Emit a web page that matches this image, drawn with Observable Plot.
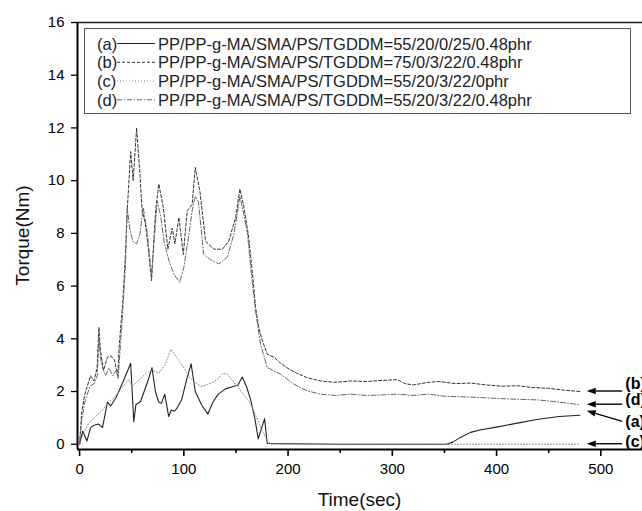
<!DOCTYPE html>
<html>
<head>
<meta charset="utf-8">
<script src="https://cdn.jsdelivr.net/npm/d3@7"></script>
<script src="https://cdn.jsdelivr.net/npm/@observablehq/plot@0.6"></script>
<style>
  body { margin: 0; background: #fff; overflow: hidden; }
  #chart svg { display: block; }
</style>
</head>
<body>
<div id="chart"></div>
<script>
// ---- data (time in s, torque in Nm) ----
const tA = [0, 3, 7, 10.6, 14, 18, 22, 26.7, 29.8, 35, 41.5, 49, 52, 54, 58.5, 65, 69.5, 72.7, 75.9, 78.5, 81.7, 85.5, 88, 91, 94, 98, 103, 107, 111, 117, 123, 128, 133, 140, 148, 152, 156, 160, 164, 168, 171.4, 174.5, 177.5, 180, 250, 352, 358, 365, 375, 385, 400, 420, 440, 460, 480];
const vA = [0, 0.5, 0.12, 0.64, 0.72, 0.77, 0.63, 1.6, 1.45, 1.77, 2.35, 3.07, 0.85, 1.5, 1.62, 2.34, 2.9, 2.0, 1.6, 1.55, 1.9, 1.05, 1.3, 1.25, 1.4, 1.7, 2.5, 3.05, 2.0, 1.5, 1.15, 1.6, 1.9, 2.1, 2.2, 2.25, 2.55, 2.2, 1.7, 1.0, 0.2, 0.6, 0.97, 0.03, 0, 0, 0.08, 0.25, 0.45, 0.55, 0.65, 0.8, 0.95, 1.05, 1.1];

const tB = [0, 2, 5, 10.5, 13.7, 16.8, 18.5, 20, 23, 26.7, 30, 33.4, 36.6, 38, 41.6, 44, 45.7, 49, 51.4, 54.7, 57.9, 60, 63, 66, 69, 72.9, 76, 80.3, 84.7, 88.9, 91.4, 95.3, 99.5, 103.3, 108, 111, 115.4, 120.9, 128.9, 137, 143, 149.7, 153.8, 157.6, 161.8, 165.6, 168.8, 172, 175.3, 180, 186.5, 192, 199, 208, 218, 231, 245, 260, 275, 290, 305, 312, 320, 335, 345, 360, 375, 390, 405, 420, 435, 450, 465, 480];
const vB = [0, 1.2, 1.9, 2.6, 2.4, 2.9, 4.43, 3.55, 2.8, 3.3, 3.35, 3.2, 2.6, 3.7, 5.5, 7.2, 8.86, 11.1, 10.0, 12.0, 10.25, 8.86, 8.4, 7.4, 6.2, 8.86, 9.87, 8.98, 7.4, 8.2, 7.6, 8.6, 7.2, 8.86, 9.1, 10.5, 9.6, 7.7, 7.4, 7.4, 7.7, 8.6, 9.68, 9.0, 7.97, 6.58, 5.19, 4.4, 3.93, 3.42, 3.3, 3.1, 2.9, 2.7, 2.53, 2.4, 2.35, 2.4, 2.38, 2.42, 2.45, 2.3, 2.25, 2.35, 2.38, 2.3, 2.32, 2.25, 2.2, 2.22, 2.15, 2.12, 2.05, 2.0];

const tC = [0, 3, 8, 15, 22, 28, 35, 42, 47, 50.5, 55, 58.6, 64, 69.6, 76, 82, 87.5, 93, 100, 106, 111, 116, 122, 128, 133, 137.7, 142, 147, 152, 158, 163, 168, 172, 176, 180, 184, 480];
const vC = [0, 0.35, 0.75, 1.05, 1.3, 1.6, 1.85, 2.2, 2.45, 2.2, 2.35, 2.5, 2.7, 2.8, 2.7, 3.0, 3.6, 3.3, 2.9, 2.5, 2.35, 2.2, 2.25, 2.35, 2.5, 2.69, 2.65, 2.4, 2.15, 1.85, 1.6, 1.2, 0.8, 0.45, 0.15, 0, 0];

const tD = [0, 2, 5, 10, 14, 17, 18.5, 20, 22, 25, 28, 32, 35, 37, 41, 44, 45.7, 48, 51, 54.7, 57.9, 61, 65, 69, 74.5, 78, 81, 85.7, 90.5, 96, 100, 104.9, 108, 111, 114, 119, 125.7, 133.6, 141.7, 148, 153.8, 157.6, 161, 164.8, 168.8, 173.6, 180, 192.8, 205.6, 218, 231, 245, 260, 275, 290, 305, 320, 335, 350, 365, 380, 395, 410, 425, 440, 455, 470, 480];
const vD = [0, 0.9, 1.6, 2.2, 2.3, 2.6, 4.05, 3.3, 2.9, 2.6, 2.9, 2.6, 2.8, 2.5, 4.8, 6.8, 8.98, 8.2, 7.7, 7.6, 7.97, 8.98, 8.0, 6.4, 9.24, 8.6, 7.7, 6.96, 6.45, 6.14, 6.7, 7.97, 8.86, 9.4, 9.2, 7.2, 7.0, 6.84, 7.1, 7.97, 9.4, 8.7, 8.0, 6.45, 5.06, 3.8, 2.91, 2.66, 2.28, 2.03, 1.9, 1.85, 1.9, 1.85, 1.87, 1.9, 1.85, 1.9, 1.82, 1.8, 1.78, 1.75, 1.72, 1.7, 1.68, 1.62, 1.55, 1.5];

const seriesKeys = ["a", "b", "c", "d"];
const legendTags = ["(a)", "(b)", "(c)", "(d)"];
const legendTexts = [
  "PP/PP-g-MA/SMA/PS/TGDDM=55/20/0/25/0.48phr",
  "PP/PP-g-MA/SMA/PS/TGDDM=75/0/3/22/0.48phr",
  "PP/PP-g-MA/SMA/PS/TGDDM=55/20/3/22/0phr",
  "PP/PP-g-MA/SMA/PS/TGDDM=55/20/3/22/0.48phr"
];
const annoTags = ["(b)", "(d)", "(a)", "(c)"];
const annoKeys = ["b", "d", "a", "c"];

const yTicks = [0, 2, 4, 6, 8, 10, 12, 14, 16];
const xTicks = [0, 100, 200, 300, 400, 500];
const xMinorTicks = [50, 150, 250, 350, 450];
const xTitle = "Time(sec)";
const yTitle = "Torque(Nm)";

// ---- styles ----
const lineStyle = {
  a: {stroke: "#222", dash: null, width: 1.1},
  b: {stroke: "#333", dash: "3,2", width: 1},
  c: {stroke: "#8a8a8a", dash: "1,2", width: 1},
  d: {stroke: "#666", dash: "5,2,1,2", width: 1}
};
const FONT = "'Liberation Sans', Arial, Helvetica, sans-serif";

const seriesData = {
  a: tA.map((t, i) => ({t, v: vA[i]})),
  b: tB.map((t, i) => ({t, v: vB[i]})),
  c: tC.map((t, i) => ({t, v: vC[i]})),
  d: tD.map((t, i) => ({t, v: vD[i]}))
};

const xDomain = [-2, 540];
const yDomain = [-0.2, 16];

const chart = Plot.plot({
  width: 642,
  height: 511,
  marginLeft: 77,
  marginRight: 0,
  marginTop: 22,
  marginBottom: 62,
  x: {domain: xDomain},
  y: {domain: yDomain},
  style: {fontFamily: FONT, fontSize: "15px", color: "#000", background: "#fff"},
  marks: [
    Plot.ruleY([yDomain[1]], {stroke: "#222", strokeWidth: 1.6}),
    Plot.axisY({ticks: yTicks, tickSize: 6, tickPadding: 7, label: null, fontSize: 15, stroke: "#000", strokeWidth: 1.3}),
    Plot.axisX({ticks: xTicks, tickSize: 7, tickPadding: 7, label: null, fontSize: 15, stroke: "#000", strokeWidth: 1.6}),
    Plot.axisX({ticks: xMinorTicks, tickSize: 4, tickPadding: 0, tickFormat: () => "", label: null, stroke: "#000", strokeWidth: 1.6}),
    ...seriesKeys.map(k => Plot.line(seriesData[k], {
      x: "t", y: "v",
      stroke: lineStyle[k].stroke,
      strokeWidth: lineStyle[k].width,
      strokeDasharray: lineStyle[k].dash
    })),
    Plot.ruleX([xDomain[0]], {stroke: "#000", strokeWidth: 2}),
    Plot.ruleY([yDomain[0]], {stroke: "#000", strokeWidth: 2})
  ]
});

document.getElementById("chart").appendChild(chart);

// ---- annotations, titles and legend (placed with the plot's scales) ----
const X = chart.scale("x");
const Y = chart.scale("y");
const svg = d3.select(chart);

// axis titles
svg.append("text")
  .attr("x", (X.apply(xDomain[0]) + 642) / 2)
  .attr("y", 499)
  .attr("text-anchor", "middle")
  .attr("dominant-baseline", "central")
  .attr("font-family", FONT).attr("font-size", 19).attr("fill", "#111")
  .text(xTitle);
svg.append("text")
  .attr("transform", `translate(22,${(Y.apply(yDomain[0]) + Y.apply(yDomain[1])) / 2}) rotate(-90)`)
  .attr("text-anchor", "middle")
  .attr("dominant-baseline", "central")
  .attr("font-family", FONT).attr("font-size", 19).attr("fill", "#111")
  .text(yTitle);

// right-side arrow annotations pointing to curve ends
const lastVal = k => seriesData[k][seriesData[k].length - 1];
const annoOffsets = {b: {head: 0, tail: 0, label: 0.3}, d: {head: 0, tail: 0, label: 0.18}, a: {head: 0.15, tail: -0.25, label: -0.25}, c: {head: 0, tail: 0, label: 0.1}};
const headT = 487, tailT = 521, labelT = 524;
annoKeys.forEach((k, i) => {
  const end = lastVal(k);
  const o = annoOffsets[k];
  const hx = X.apply(headT), hy = Y.apply(end.v + o.head);
  const tx = X.apply(tailT), ty = Y.apply(end.v + o.tail);
  const ang = Math.atan2(ty - hy, tx - hx);
  const L = 9, W = 3.2;
  const bx = hx + L * Math.cos(ang), by = hy + L * Math.sin(ang);
  svg.append("line").attr("x1", bx).attr("y1", by).attr("x2", tx).attr("y2", ty)
    .attr("stroke", "#000").attr("stroke-width", 1.4);
  svg.append("path")
    .attr("d", `M${hx},${hy}L${bx - W * Math.sin(ang)},${by + W * Math.cos(ang)}L${bx + W * Math.sin(ang)},${by - W * Math.cos(ang)}Z`)
    .attr("fill", "#000");
  svg.append("text")
    .attr("x", X.apply(labelT)).attr("y", Y.apply(end.v + o.label))
    .attr("text-anchor", "start")
    .attr("dominant-baseline", "central")
    .attr("font-family", FONT).attr("font-size", 16).attr("font-weight", "bold").attr("fill", "#000")
    .text(annoTags[i]);
});

// legend box
const lg = svg.append("g").attr("text-anchor", "start");
lg.append("rect").attr("x", 84.5).attr("y", 28.5).attr("width", 546).attr("height", 85)
  .attr("fill", "#fff").attr("stroke", "#555").attr("stroke-width", 1);
const rowY = [43.5, 62.3, 81, 99.8];
seriesKeys.forEach((k, i) => {
  const y = rowY[i];
  lg.append("text").attr("x", 97).attr("y", y).attr("text-anchor", "start").attr("dominant-baseline", "central")
    .attr("font-family", FONT).attr("font-size", 16.5).attr("fill", "#222").text(legendTags[i]);
  lg.append("line").attr("x1", 117).attr("x2", 155).attr("y1", y).attr("y2", y)
    .attr("stroke", lineStyle[k].stroke).attr("stroke-width", lineStyle[k].width)
    .attr("stroke-dasharray", lineStyle[k].dash);
  lg.append("text").attr("x", 158).attr("y", y).attr("text-anchor", "start").attr("dominant-baseline", "central")
    .attr("font-family", FONT).attr("font-size", 16.5).attr("fill", "#222").text(legendTexts[i]);
});
</script>
</body>
</html>
